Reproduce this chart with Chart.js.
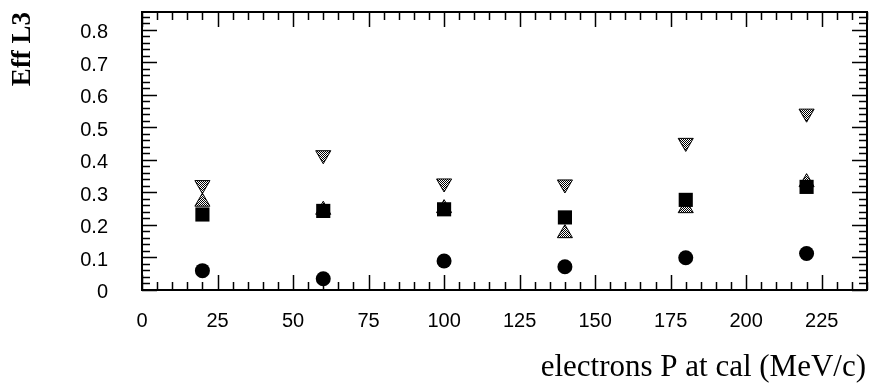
<!DOCTYPE html>
<html>
<head>
<meta charset="utf-8">
<script src="https://cdn.jsdelivr.net/npm/chart.js@4.4.1/dist/chart.umd.min.js"></script>
<style>
  html, body { margin: 0; padding: 0; background: #fff; }
  #wrap { width: 869px; height: 388px; }
</style>
</head>
<body>
<div id="wrap"><canvas id="effChart" width="869" height="388"></canvas></div>
<script>
// momentum points (MeV/c)
const momentum = [20, 60, 100, 140, 180, 220];
// efficiencies, one array per marker
const effCircle = [0.058, 0.033, 0.088, 0.070, 0.098, 0.111];
const effSquare = [0.231, 0.242, 0.247, 0.222, 0.276, 0.316];
const effTriUp = [0.27, 0.245, 0.25, 0.173, 0.25, 0.33];
const effTriDown = [0.322, 0.414, 0.327, 0.324, 0.452, 0.542];
// tick labels
const xTicks = [0, 25, 50, 75, 100, 125, 150, 175, 200, 225];
const yTicks = [0, 0.1, 0.2, 0.3, 0.4, 0.5, 0.6, 0.7, 0.8];

const toXY = ys => momentum.map((x, i) => ({ x: x, y: ys[i] }));

// dithered grey fill like the original triangles
const pc = document.createElement('canvas');
pc.width = 2; pc.height = 2;
const pctx = pc.getContext('2d');
pctx.fillStyle = '#fff'; pctx.fillRect(0, 0, 2, 2);
pctx.fillStyle = '#000'; pctx.fillRect(0, 0, 1, 1); pctx.fillRect(1, 1, 1, 1);
const dither = pctx.createPattern(pc, 'repeat');

// frame with inward ticks on all four sides + axis titles
const framePlugin = {
  id: 'frame',
  beforeDatasetsDraw(chart) {
    const { ctx, chartArea: a, scales } = chart;
    const xs = scales.x, ys = scales.y;
    ctx.save();
    ctx.strokeStyle = '#000';
    ctx.lineWidth = 1.5;
    ctx.beginPath();
    for (let v = 0; v <= 240; v += 5) {
      const px = Math.round(xs.getPixelForValue(v)) + 0.5;
      const len = v % 25 === 0 ? 15 : 8;
      ctx.moveTo(px, a.bottom); ctx.lineTo(px, a.bottom - len);
      ctx.moveTo(px, a.top); ctx.lineTo(px, a.top + len);
    }
    for (let k = 0; k <= 42; k++) {
      const v = k * 0.02;
      const py = Math.round(ys.getPixelForValue(v)) + 0.5;
      const len = k % 5 === 0 ? 15 : 8;
      ctx.moveTo(a.left, py); ctx.lineTo(a.left + len, py);
      ctx.moveTo(a.right, py); ctx.lineTo(a.right - len, py);
    }
    ctx.stroke();
    ctx.lineWidth = 2;
    ctx.strokeRect(a.left, a.top, a.right - a.left, a.bottom - a.top);

    ctx.fillStyle = '#000';
    ctx.font = '31px "Liberation Serif", serif';
    ctx.textAlign = 'right';
    ctx.textBaseline = 'alphabetic';
    ctx.fillText('electrons P at cal (MeV/c)', 866, 376);

    ctx.translate(23, 49);
    ctx.rotate(-Math.PI / 2);
    ctx.font = 'bold 27px "Liberation Serif", serif';
    ctx.textAlign = 'center';
    ctx.textBaseline = 'middle';
    ctx.fillText('Eff L3', 0, 0);
    ctx.restore();
  }
};

const tickFont = { family: '"Liberation Sans", sans-serif', size: 20 };
const noPad = s => { s.paddingTop = 0; s.paddingBottom = 0; s.paddingLeft = 0; s.paddingRight = 0; };

new Chart(document.getElementById('effChart'), {
  type: 'scatter',
  data: {
    datasets: [
      { data: toXY(effSquare), pointStyle: 'rect', pointRadius: 10, backgroundColor: '#000', borderColor: '#000', borderWidth: 0 },
      { data: toXY(effCircle), pointStyle: 'circle', pointRadius: 7.5, backgroundColor: '#000', borderColor: '#000', borderWidth: 0 },
      { data: toXY(effTriUp), pointStyle: 'triangle', pointRadius: 8.7, backgroundColor: dither, borderColor: '#000', borderWidth: 1 },
      { data: toXY(effTriDown), pointStyle: 'triangle', rotation: 180, pointRadius: 8.7, backgroundColor: dither, borderColor: '#000', borderWidth: 1 }
    ]
  },
  options: {
    responsive: false,
    animation: false,
    layout: { autoPadding: false, padding: { top: 12, right: 2, left: 0, bottom: 0 } },
    plugins: { legend: { display: false }, tooltip: { enabled: false } },
    scales: {
      x: {
        type: 'linear', min: 0, max: 240,
        afterFit: s => { s.height = 98; noPad(s); },
        afterBuildTicks: s => { s.ticks = xTicks.map(v => ({ value: v })); },
        grid: { display: false, drawTicks: false },
        border: { display: false },
        ticks: { color: '#000', font: tickFont, padding: 19, maxRotation: 0, autoSkip: false }
      },
      y: {
        type: 'linear', min: -0.0015, max: 0.8545,
        afterFit: s => { s.width = 142; noPad(s); },
        afterBuildTicks: s => { s.ticks = yTicks.map(v => ({ value: v })); },
        grid: { display: false, drawTicks: false },
        border: { display: false },
        ticks: { color: '#000', font: tickFont, padding: 34, labelOffset: 3, autoSkip: false,
                 callback: v => v === 0 ? '0' : v.toFixed(1) }
      }
    }
  },
  plugins: [framePlugin]
});
</script>
</body>
</html>
